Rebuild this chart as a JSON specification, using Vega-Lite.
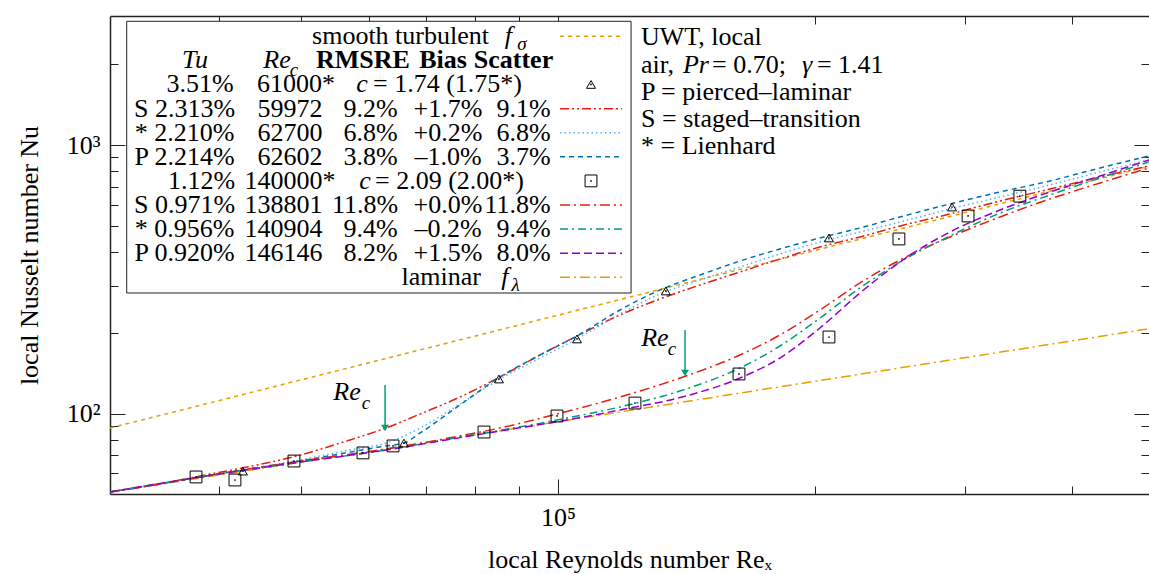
{
 "$schema": "https://vega.github.io/schema/vega-lite/v6.json",
 "width": 1039, "height": 478,
 "autosize": {"type": "none"},
 "padding": {"left": 110, "top": 16, "right": 0, "bottom": 80},
 "background": "white",
 "config": {"view": {"stroke": null}, "font": "Liberation Serif"},
 "datasets": {
  "curves": [
   {"s":"fs","Re":29840,"Nu":88.4},{"s":"fs","Re":131680,"Nu":289.9},{"s":"fs","Re":493000,"Nu":833.7},
   {"s":"fl","Re":29840,"Nu":51.0},{"s":"fl","Re":100000,"Nu":93.3},{"s":"fl","Re":493000,"Nu":207.1},
   {"s":"AS","Re":29840,"Nu":51.1},{"s":"AS","Re":34160,"Nu":54.7},{"s":"AS","Re":38050,"Nu":58.6},{"s":"AS","Re":42720,"Nu":62.8},{"s":"AS","Re":49840,"Nu":70.1},{"s":"AS","Re":57030,"Nu":79.8},{"s":"AS","Re":62860,"Nu":88.4},{"s":"AS","Re":68930,"Nu":99.7},{"s":"AS","Re":76750,"Nu":115.3},{"s":"AS","Re":85510,"Nu":136.9},{"s":"AS","Re":95260,"Nu":165.3},{"s":"AS","Re":105260,"Nu":194.6},{"s":"AS","Re":118220,"Nu":233.0},{"s":"AS","Re":131680,"Nu":267.3},{"s":"AS","Re":146730,"Nu":301.4},{"s":"AS","Re":163440,"Nu":336.9},{"s":"AS","Re":182050,"Nu":376.6},{"s":"AS","Re":202800,"Nu":417.5},{"s":"AS","Re":225960,"Nu":454.9},{"s":"AS","Re":251770,"Nu":499.8},{"s":"AS","Re":288120,"Nu":553.9},{"s":"AS","Re":329800,"Nu":619.2},{"s":"AS","Re":377450,"Nu":686.5},{"s":"AS","Re":431970,"Nu":761.0},{"s":"AS","Re":493000,"Nu":836.1},
   {"s":"Astar","Re":29840,"Nu":51.1},{"s":"Astar","Re":34160,"Nu":54.7},{"s":"Astar","Re":38050,"Nu":58.1},{"s":"Astar","Re":42720,"Nu":61.7},{"s":"Astar","Re":49840,"Nu":67.2},{"s":"Astar","Re":57030,"Nu":73.2},{"s":"Astar","Re":62860,"Nu":77.7},{"s":"Astar","Re":68930,"Nu":88.4},{"s":"Astar","Re":76750,"Nu":108.6},{"s":"Astar","Re":85510,"Nu":134.6},{"s":"Astar","Re":95260,"Nu":161.1},{"s":"Astar","Re":105260,"Nu":189.7},{"s":"Astar","Re":118220,"Nu":235.0},{"s":"Astar","Re":131680,"Nu":279.0},{"s":"Astar","Re":146730,"Nu":314.6},{"s":"Astar","Re":163440,"Nu":351.7},{"s":"Astar","Re":182050,"Nu":393.2},{"s":"Astar","Re":202800,"Nu":435.8},{"s":"Astar","Re":225960,"Nu":474.8},{"s":"Astar","Re":251770,"Nu":517.2},{"s":"Astar","Re":288120,"Nu":578.1},{"s":"Astar","Re":329800,"Nu":640.8},{"s":"Astar","Re":377450,"Nu":710.5},{"s":"Astar","Re":431970,"Nu":794.2},{"s":"Astar","Re":493000,"Nu":880.1},
   {"s":"AP","Re":29840,"Nu":51.1},{"s":"AP","Re":34160,"Nu":54.7},{"s":"AP","Re":38050,"Nu":58.1},{"s":"AP","Re":42720,"Nu":61.7},{"s":"AP","Re":49840,"Nu":66.6},{"s":"AP","Re":57030,"Nu":71.9},{"s":"AP","Re":62860,"Nu":75.8},{"s":"AP","Re":65990,"Nu":77.7},{"s":"AP","Re":68930,"Nu":84.7},{"s":"AP","Re":76750,"Nu":107.7},{"s":"AP","Re":85510,"Nu":136.9},{"s":"AP","Re":95260,"Nu":165.3},{"s":"AP","Re":105260,"Nu":194.6},{"s":"AP","Re":118220,"Nu":243.2},{"s":"AP","Re":131680,"Nu":288.7},{"s":"AP","Re":146730,"Nu":328.3},{"s":"AP","Re":163440,"Nu":370.2},{"s":"AP","Re":182050,"Nu":410.4},{"s":"AP","Re":202800,"Nu":451.0},{"s":"AP","Re":225960,"Nu":491.3},{"s":"AP","Re":251770,"Nu":539.9},{"s":"AP","Re":288120,"Nu":603.5},{"s":"AP","Re":329800,"Nu":669.0},{"s":"AP","Re":377450,"Nu":735.3},{"s":"AP","Re":431970,"Nu":821.9},{"s":"AP","Re":493000,"Nu":910.8},
   {"s":"BS","Re":29840,"Nu":51.1},{"s":"BS","Re":38050,"Nu":58.1},{"s":"BS","Re":49840,"Nu":66.6},{"s":"BS","Re":62860,"Nu":73.8},{"s":"BS","Re":76750,"Nu":82.6},{"s":"BS","Re":85510,"Nu":88.4},{"s":"BS","Re":99730,"Nu":99.7},{"s":"BS","Re":118220,"Nu":115.3},{"s":"BS","Re":141270,"Nu":138.1},{"s":"BS","Re":163440,"Nu":165.3},{"s":"BS","Re":182050,"Nu":196.3},{"s":"BS","Re":202800,"Nu":243.2},{"s":"BS","Re":225960,"Nu":306.6},{"s":"BS","Re":251770,"Nu":373.4},{"s":"BS","Re":288120,"Nu":454.9},{"s":"BS","Re":329800,"Nu":539.9},{"s":"BS","Re":377450,"Nu":630.0},{"s":"BS","Re":431970,"Nu":722.8},{"s":"BS","Re":493000,"Nu":821.9},
   {"s":"Bstar","Re":29840,"Nu":51.1},{"s":"Bstar","Re":38050,"Nu":58.1},{"s":"Bstar","Re":49840,"Nu":66.0},{"s":"Bstar","Re":62860,"Nu":73.2},{"s":"Bstar","Re":76750,"Nu":81.8},{"s":"Bstar","Re":85510,"Nu":86.6},{"s":"Bstar","Re":99730,"Nu":94.7},{"s":"Bstar","Re":118220,"Nu":105.9},{"s":"Bstar","Re":141270,"Nu":123.5},{"s":"Bstar","Re":163440,"Nu":147.9},{"s":"Bstar","Re":182050,"Nu":178.6},{"s":"Bstar","Re":202800,"Nu":227.0},{"s":"Bstar","Re":225960,"Nu":293.8},{"s":"Bstar","Re":251770,"Nu":367.1},{"s":"Bstar","Re":288120,"Nu":458.8},{"s":"Bstar","Re":329800,"Nu":558.6},{"s":"Bstar","Re":377450,"Nu":652.1},{"s":"Bstar","Re":431970,"Nu":754.4},{"s":"Bstar","Re":493000,"Nu":865.2},
   {"s":"BP","Re":29840,"Nu":51.1},{"s":"BP","Re":38050,"Nu":58.1},{"s":"BP","Re":49840,"Nu":66.0},{"s":"BP","Re":62860,"Nu":73.2},{"s":"BP","Re":76750,"Nu":81.4},{"s":"BP","Re":85510,"Nu":86.2},{"s":"BP","Re":99730,"Nu":93.3},{"s":"BP","Re":118220,"Nu":103.2},{"s":"BP","Re":141270,"Nu":116.3},{"s":"BP","Re":163440,"Nu":135.7},{"s":"BP","Re":182050,"Nu":161.1},{"s":"BP","Re":202800,"Nu":208.4},{"s":"BP","Re":225960,"Nu":281.4},{"s":"BP","Re":251770,"Nu":367.1},{"s":"BP","Re":288120,"Nu":474.8},{"s":"BP","Re":329800,"Nu":573.2},{"s":"BP","Re":377450,"Nu":669.0},{"s":"BP","Re":431970,"Nu":767.1},{"s":"BP","Re":493000,"Nu":880.1}
  ],
  "markers": [
   {"g":"A","Re":42720,"Nu":61.1},{"g":"A","Re":65990,"Nu":77.7},{"g":"A","Re":85270,"Nu":134.6},{"g":"A","Re":105260,"Nu":189.7},{"g":"A","Re":133800,"Nu":286.3},{"g":"A","Re":207800,"Nu":451.0},{"g":"A","Re":289700,"Nu":588.1},
   {"g":"B","Re":37640,"Nu":58.1},{"g":"B","Re":41810,"Nu":56.6},{"g":"B","Re":49030,"Nu":66.6},{"g":"B","Re":59070,"Nu":71.4},{"g":"B","Re":64060,"Nu":75.8},{"g":"B","Re":81890,"Nu":85.4},{"g":"B","Re":99730,"Nu":98.0},{"g":"B","Re":123100,"Nu":109.5},{"g":"B","Re":163000,"Nu":140.5},{"g":"B","Re":207800,"Nu":192.9},{"g":"B","Re":251000,"Nu":447.2},{"g":"B","Re":302500,"Nu":544.5},{"g":"B","Re":347900,"Nu":645.3}
  ],
  "lgPts": [{"g":"A","Re":109320,"Nu":1682},{"g":"B","Re":109320,"Nu":735.6}],
  "samples": [
   {"s":"fs","x1":100540,"x2":118850,"Nu":2542},{"s":"AS","x1":100540,"x2":118850,"Nu":1367},{"s":"Astar","x1":100540,"x2":118850,"Nu":1112},{"s":"AP","x1":100540,"x2":118850,"Nu":904.5},{"s":"BS","x1":100540,"x2":118850,"Nu":598.2},{"s":"Bstar","x1":100540,"x2":118850,"Nu":486.6},{"s":"BP","x1":100540,"x2":118850,"Nu":395.8},{"s":"fl","x1":100540,"x2":118850,"Nu":321.9}
  ],
  "box": [{"x1":31217,"x2":121800,"y1":2891,"y2":281.3}],
  "arrows": [{"Re":62700,"Nu1":127.8,"Nu2":90.7},{"Re":140904,"Nu1":204.9,"Nu2":145.4}],
  "heads": [{"Re":62700,"Nu":88.4},{"Re":140904,"Nu":141.7}],
  "tC": [
   {"t":"3.51%","Re":38050,"Nu":1682},{"t":"61000*","Re":49300,"Nu":1682},
   {"t":"S 2.313%","Re":36490,"Nu":1367},{"t":"59972","Re":48510,"Nu":1367},{"t":"9.2%","Re":60290,"Nu":1367},{"t":"+1.7%","Re":74310,"Nu":1367},{"t":"9.1%","Re":91120,"Nu":1367},
   {"t":"* 2.210%","Re":36490,"Nu":1112},{"t":"62700","Re":48510,"Nu":1112},{"t":"6.8%","Re":60290,"Nu":1112},{"t":"+0.2%","Re":74310,"Nu":1112},{"t":"6.8%","Re":91120,"Nu":1112},
   {"t":"P 2.214%","Re":36490,"Nu":904.5},{"t":"62602","Re":48510,"Nu":904.5},{"t":"3.8%","Re":60290,"Nu":904.5},{"t":"–1.0%","Re":74310,"Nu":904.5},{"t":"3.7%","Re":91120,"Nu":904.5},
   {"t":"1.12%","Re":38200,"Nu":735.6},{"t":"140000*","Re":48510,"Nu":735.6},
   {"t":"S 0.971%","Re":36490,"Nu":598.2},{"t":"138801","Re":47670,"Nu":598.2},{"t":"11.8%","Re":59390,"Nu":598.2},{"t":"+0.0%","Re":74310,"Nu":598.2},{"t":"11.8%","Re":89640,"Nu":598.2},
   {"t":"* 0.956%","Re":36490,"Nu":486.6},{"t":"140904","Re":47670,"Nu":486.6},{"t":"9.4%","Re":60290,"Nu":486.6},{"t":"–0.2%","Re":74310,"Nu":486.6},{"t":"9.4%","Re":91120,"Nu":486.6},
   {"t":"P 0.920%","Re":36490,"Nu":395.8},{"t":"146146","Re":47670,"Nu":395.8},{"t":"8.2%","Re":60290,"Nu":395.8},{"t":"+1.5%","Re":74310,"Nu":395.8},{"t":"8.0%","Re":91120,"Nu":395.8}
  ],
  "tR": [{"t":"smooth turbulent","Re":83000,"Nu":2542},{"t":"laminar","Re":81240,"Nu":321.9}],
  "tL": [
   {"t":"= 1.74 (1.75*)","Re":60690,"Nu":1682},{"t":"= 2.09 (2.00*)","Re":61020,"Nu":735.6},
   {"t":"UWT, local","Re":125130,"Nu":2520},{"t":"air,","Re":125130,"Nu":1987},{"t":"= 0.70;","Re":151550,"Nu":1987},{"t":"= 1.41","Re":201160,"Nu":1987},
   {"t":"P = pierced–laminar","Re":125130,"Nu":1573},{"t":"S = staged–transition","Re":125130,"Nu":1248},{"t":"* = Lienhard","Re":125130,"Nu":994.9}
  ],
  "tI": [
   {"t":"Tu","Re":37540,"Nu":2068},{"t":"Re","Re":46840,"Nu":2068},{"t":"c","Re":58910,"Nu":1682},{"t":"c","Re":59390,"Nu":735.6},
   {"t":"f","Re":87480,"Nu":2542},{"t":"f","Re":86660,"Nu":321.9},{"t":"Re","Re":56570,"Nu":120.4},{"t":"Re","Re":129900,"Nu":191.2}
  ],
  "tIL": [{"t":"Pr","Re":140130,"Nu":1987},{"t":"γ","Re":193180,"Nu":1987}],
  "tB": [{"t":"RMSRE","Re":59070,"Nu":2068},{"t":"Bias","Re":73310,"Nu":2068},{"t":"Scatter","Re":88680,"Nu":2068}],
  "tS": [{"t":"σ","Re":90740,"Nu":2379},{"t":"c","Re":49030,"Nu":1904},{"t":"λ","Re":89170,"Nu":301.4},{"t":"c","Re":59550,"Nu":109.6},{"t":"c","Re":136000,"Nu":174.1}]
 },
 "layer": [
  {"data":{"name":"box"},"mark":{"type":"rect","fill":"white","stroke":"#222","strokeWidth":1},
   "encoding":{"x":{"field":"x1","type":"quantitative","scale":{"type":"log","domain":[29840,493000],"nice":false},"axis":null},"x2":{"field":"x2"},
    "y":{"field":"y1","type":"quantitative","scale":{"type":"log","domain":[50.2,3025],"nice":false},"axis":null},"y2":{"field":"y2"}}},
  {"data":{"name":"curves"},"mark":{"type":"line","strokeWidth":1.5,"interpolate":"monotone"},
   "encoding":{
    "x":{"field":"Re","type":"quantitative","scale":{"type":"log","domain":[29840,493000],"nice":false},
     "axis":{"orient":"bottom","values":[40000,50000,60000,70000,80000,90000,100000,200000,300000,400000],
      "labelExpr":"datum.value == 100000 ? '10⁵' : ''","labelOverlap":false,"labelFlush":false,"labelBound":false,
      "tickSize":{"condition":{"test":"datum.value == 100000","value":-15},"value":-8},
      "labelPadding":25,"labelFontSize":26,"labelColor":"#000","labelFont":"Liberation Serif",
      "title":"local Reynolds number  Reₓ","titleFontSize":26,"titleFontWeight":"normal","titleFont":"Liberation Serif","titleColor":"#000","titlePadding":9,
      "domainColor":"#222","domainWidth":1.5,"tickColor":"#222","tickWidth":1,"grid":false}},
    "y":{"field":"Nu","type":"quantitative","scale":{"type":"log","domain":[50.2,3025],"nice":false},
     "axis":{"orient":"left","values":[60,70,80,90,100,200,300,400,500,600,700,800,900,1000,2000],
      "labelExpr":"datum.value == 100 ? '10²' : datum.value == 1000 ? '10³' : ''","labelOverlap":false,"labelFlush":false,"labelBound":false,
      "tickSize":{"condition":{"test":"datum.value == 100 || datum.value == 1000","value":-15},"value":-8},
      "labelPadding":25,"labelFontSize":26,"labelColor":"#000","labelFont":"Liberation Serif",
      "title":"local Nusselt number  Nu","titleFontSize":26,"titleFontWeight":"normal","titleFont":"Liberation Serif","titleColor":"#000","titlePadding":24,
      "domainColor":"#222","domainWidth":1.5,"tickColor":"#222","tickWidth":1,"grid":false}},
    "color":{"field":"s","type":"nominal","legend":null,"scale":{"domain":["fs","fl","AS","Astar","AP","BS","Bstar","BP"],"range":["#e69f00","#e69f00","#e51e10","#56b4e9","#0072b2","#e51e10","#009e73","#9400d3"]}},
    "strokeDash":{"field":"s","type":"nominal","legend":null,"scale":{"domain":["fs","fl","AS","Astar","AP","BS","Bstar","BP"],"range":[[4,4],[10,4,2,4],[9,3,2,3,2,3],[1.5,3],[5,4],[10,4,2,4],[8,4,2,4],[8,4]]}}
   }},
  {"data":{"name":"samples"},"mark":{"type":"rule","strokeWidth":1.5},
   "encoding":{"x":{"field":"x1","type":"quantitative","scale":{"type":"log","domain":[29840,493000],"nice":false},"axis":null},"x2":{"field":"x2"},
    "y":{"field":"Nu","type":"quantitative","scale":{"type":"log","domain":[50.2,3025],"nice":false},"axis":null},
    "color":{"field":"s","type":"nominal","legend":null,"scale":{"domain":["fs","fl","AS","Astar","AP","BS","Bstar","BP"],"range":["#e69f00","#e69f00","#e51e10","#56b4e9","#0072b2","#e51e10","#009e73","#9400d3"]}},
    "strokeDash":{"field":"s","type":"nominal","legend":null,"scale":{"domain":["fs","fl","AS","Astar","AP","BS","Bstar","BP"],"range":[[4,4],[10,4,2,4],[9,3,2,3,2,3],[1.5,3],[5,4],[10,4,2,4],[8,4,2,4],[8,4]]}}}},
  {"data":{"name":"arrows"},"mark":{"type":"rule","strokeWidth":1.5,"color":"#009e73"},
   "encoding":{"x":{"field":"Re","type":"quantitative","scale":{"type":"log","domain":[29840,493000],"nice":false},"axis":null},
    "y":{"field":"Nu1","type":"quantitative","scale":{"type":"log","domain":[50.2,3025],"nice":false},"axis":null},"y2":{"field":"Nu2"}}},
  {"data":{"name":"heads"},"mark":{"type":"point","shape":"triangle-down","filled":true,"color":"#009e73","size":60,"opacity":1},
   "encoding":{"x":{"field":"Re","type":"quantitative","scale":{"type":"log","domain":[29840,493000],"nice":false},"axis":null},
    "y":{"field":"Nu","type":"quantitative","scale":{"type":"log","domain":[50.2,3025],"nice":false},"axis":null}}},
  {"data":{"name":"markers"},"mark":{"type":"point","filled":false,"stroke":"#000","strokeWidth":1,"opacity":1},
   "encoding":{
    "x":{"field":"Re","type":"quantitative","scale":{"type":"log","domain":[29840,493000],"nice":false},
     "axis":{"orient":"top","values":[40000,50000,60000,70000,80000,90000,100000,200000,300000,400000],"labels":false,"title":null,
      "tickSize":{"condition":{"test":"datum.value == 100000","value":-15},"value":-8},
      "domainColor":"#222","domainWidth":1.5,"tickColor":"#222","tickWidth":1,"grid":false}},
    "y":{"field":"Nu","type":"quantitative","scale":{"type":"log","domain":[50.2,3025],"nice":false},
     "axis":{"orient":"right","values":[60,70,80,90,100,200,300,400,500,600,700,800,900,1000,2000],"labels":false,"title":null,"domain":false,
      "tickSize":{"condition":{"test":"datum.value == 100 || datum.value == 1000","value":-15},"value":-8},
      "tickColor":"#222","tickWidth":1,"grid":false}},
    "shape":{"field":"g","type":"nominal","legend":null,"scale":{"domain":["A","B"],"range":["triangle-up","square"]}},
    "size":{"field":"g","type":"nominal","legend":null,"scale":{"domain":["A","B"],"range":[80,140]}}}},
  {"data":{"name":"markers"},"mark":{"type":"circle","color":"#000","size":3,"opacity":1},
   "encoding":{"x":{"field":"Re","type":"quantitative","scale":{"type":"log","domain":[29840,493000],"nice":false},"axis":null},
    "y":{"field":"Nu","type":"quantitative","scale":{"type":"log","domain":[50.2,3025],"nice":false},"axis":null}}},
  {"data":{"name":"lgPts"},"mark":{"type":"point","filled":false,"stroke":"#000","strokeWidth":1,"opacity":1},
   "encoding":{"x":{"field":"Re","type":"quantitative","scale":{"type":"log","domain":[29840,493000],"nice":false},"axis":null},
    "y":{"field":"Nu","type":"quantitative","scale":{"type":"log","domain":[50.2,3025],"nice":false},"axis":null},
    "shape":{"field":"g","type":"nominal","legend":null,"scale":{"domain":["A","B"],"range":["triangle-up","square"]}},
    "size":{"field":"g","type":"nominal","legend":null,"scale":{"domain":["A","B"],"range":[80,140]}}}},
  {"data":{"name":"lgPts"},"mark":{"type":"circle","color":"#000","size":3,"opacity":1},
   "encoding":{"x":{"field":"Re","type":"quantitative","scale":{"type":"log","domain":[29840,493000],"nice":false},"axis":null},
    "y":{"field":"Nu","type":"quantitative","scale":{"type":"log","domain":[50.2,3025],"nice":false},"axis":null}}},
  {"data":{"name":"tC"},"mark":{"type":"text","fontSize":26,"align":"center","baseline":"middle","font":"Liberation Serif","color":"#000"},
   "encoding":{"x":{"field":"Re","type":"quantitative","scale":{"type":"log","domain":[29840,493000],"nice":false},"axis":null},
    "y":{"field":"Nu","type":"quantitative","scale":{"type":"log","domain":[50.2,3025],"nice":false},"axis":null},"text":{"field":"t"}}},
  {"data":{"name":"tR"},"mark":{"type":"text","fontSize":26,"align":"right","baseline":"middle","font":"Liberation Serif","color":"#000"},
   "encoding":{"x":{"field":"Re","type":"quantitative","scale":{"type":"log","domain":[29840,493000],"nice":false},"axis":null},
    "y":{"field":"Nu","type":"quantitative","scale":{"type":"log","domain":[50.2,3025],"nice":false},"axis":null},"text":{"field":"t"}}},
  {"data":{"name":"tL"},"mark":{"type":"text","fontSize":26,"align":"left","baseline":"middle","font":"Liberation Serif","color":"#000"},
   "encoding":{"x":{"field":"Re","type":"quantitative","scale":{"type":"log","domain":[29840,493000],"nice":false},"axis":null},
    "y":{"field":"Nu","type":"quantitative","scale":{"type":"log","domain":[50.2,3025],"nice":false},"axis":null},"text":{"field":"t"}}},
  {"data":{"name":"tI"},"mark":{"type":"text","fontSize":26,"align":"center","baseline":"middle","font":"Liberation Serif","fontStyle":"italic","color":"#000"},
   "encoding":{"x":{"field":"Re","type":"quantitative","scale":{"type":"log","domain":[29840,493000],"nice":false},"axis":null},
    "y":{"field":"Nu","type":"quantitative","scale":{"type":"log","domain":[50.2,3025],"nice":false},"axis":null},"text":{"field":"t"}}},
  {"data":{"name":"tIL"},"mark":{"type":"text","fontSize":26,"align":"left","baseline":"middle","font":"Liberation Serif","fontStyle":"italic","color":"#000"},
   "encoding":{"x":{"field":"Re","type":"quantitative","scale":{"type":"log","domain":[29840,493000],"nice":false},"axis":null},
    "y":{"field":"Nu","type":"quantitative","scale":{"type":"log","domain":[50.2,3025],"nice":false},"axis":null},"text":{"field":"t"}}},
  {"data":{"name":"tB"},"mark":{"type":"text","fontSize":26,"align":"center","baseline":"middle","font":"Liberation Serif","fontWeight":"bold","color":"#000"},
   "encoding":{"x":{"field":"Re","type":"quantitative","scale":{"type":"log","domain":[29840,493000],"nice":false},"axis":null},
    "y":{"field":"Nu","type":"quantitative","scale":{"type":"log","domain":[50.2,3025],"nice":false},"axis":null},"text":{"field":"t"}}},
  {"data":{"name":"tS"},"mark":{"type":"text","fontSize":19,"align":"center","baseline":"middle","font":"Liberation Serif","fontStyle":"italic","color":"#000"},
   "encoding":{"x":{"field":"Re","type":"quantitative","scale":{"type":"log","domain":[29840,493000],"nice":false},"axis":null},
    "y":{"field":"Nu","type":"quantitative","scale":{"type":"log","domain":[50.2,3025],"nice":false},"axis":null},"text":{"field":"t"}}}
 ],
 "resolve": {"axis": {"x": "independent", "y": "independent"}}
}
